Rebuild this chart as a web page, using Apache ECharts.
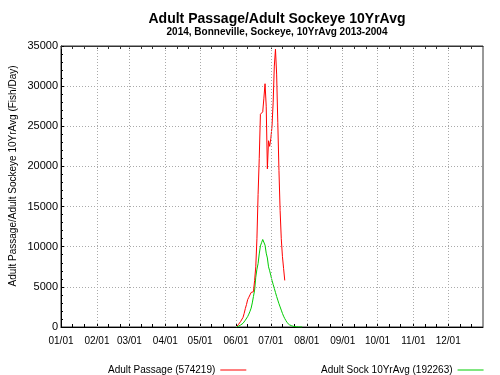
<!DOCTYPE html>
<html>
<head>
<meta charset="utf-8">
<script src="https://cdn.jsdelivr.net/npm/echarts@6/dist/echarts.min.js"></script>
<style>html,body{margin:0;padding:0;background:#fff}#c{width:500px;height:375px}</style>
</head>
<body>
<div id="c"></div>
<script>
// Month start day-of-year (Jan 1 = 0) and their labels
var monthStarts = [0, 31, 59, 90, 120, 151, 181, 212, 243, 273, 304, 334];
var monthLabels = ['01/01','02/01','03/01','04/01','05/01','06/01','07/01','08/01','09/01','10/01','11/01','12/01'];

// Adult Passage 2014 (fish/day), daily from day 151 (06/01)
var passageStart = 151;
var passageVals = [0,100,300,500,700,900,1200,1700,2300,2800,
  3400,3700,4000,4300,4100,4400,5800,7500,11000,16500,
  21000,26500,26300,26800,28500,30300,27500,19700,23200,22500,
  23500,25000,28000,32500,34600,31500,25500,19500,14500,11000,
  8800,7300,5800];

// Adult Sockeye 10-yr average (fish/day), daily from day 151
var avgStart = 151;
var avgVals = [0,50,100,150,250,350,460,650,850,1050,
  1300,1600,1950,2350,3000,3800,4600,6200,7200,7900,
  9100,10100,10500,10900,10700,10200,9200,8600,7500,7000,
  6400,5800,5300,4800,4300,3800,3350,2900,2500,2100,
  1700,1350,1050,800,550,400,280,200,150,100,
  60,40,30,20,10,10,5,0];

var seriesNames = ['Adult Passage (574219)', 'Adult Sock 10YrAvg (192263)'];
var yTicks = [0, 5000, 10000, 15000, 20000, 25000, 30000, 35000];

function pairs(start, vals) { return vals.map(function (v, i) { return [start + i, v]; }); }
var tickDays = [];
monthStarts.forEach(function (m) { tickDays.push(m, m + 10, m + 20); });

var font = 'Liberation Sans, Arial, Helvetica, sans-serif';
var chart = echarts.init(document.getElementById('c'), null, { renderer: 'canvas' });
chart.setOption({
  animation: false,
  backgroundColor: '#fff',
  title: {
    text: 'Adult Passage/Adult Sockeye 10YrAvg',
    subtext: '2014, Bonneville, Sockeye, 10YrAvg 2013-2004',
    left: 272, textAlign: 'center', top: 7, itemGap: 1,
    textStyle: { fontFamily: font, fontSize: 14, fontWeight: 'bold', color: '#000' },
    subtextStyle: { fontFamily: font, fontSize: 10, fontWeight: 'bold', color: '#000' }
  },
  legend: [
    { data: [seriesNames[0]], left: 103, top: 360, align: 'right', icon: 'rect', itemWidth: 26, itemHeight: 1,
      textStyle: { fontFamily: font, fontSize: 10, color: '#000' } },
    { data: [seriesNames[1]], left: 316, top: 360, align: 'right', icon: 'rect', itemWidth: 26, itemHeight: 1,
      textStyle: { fontFamily: font, fontSize: 10, color: '#000' } }
  ],
  grid: { left: 61, right: 17, top: 46, bottom: 48, show: true, borderColor: '#333', borderWidth: 1, containLabel: false },
  xAxis: [{
    type: 'value', min: 0, max: 364, position: 'bottom',
    axisLine: { show: true, lineStyle: { color: '#000', width: 1 } },
    axisTick: { show: true, inside: true, length: 3, customValues: tickDays, lineStyle: { color: '#000' } },
    axisLabel: { customValues: monthStarts, margin: 9, fontFamily: font, fontSize: 10, color: '#000',
      formatter: function (v) { var i = monthStarts.indexOf(v); return i >= 0 ? monthLabels[i] : ''; } },
    splitLine: { show: false }
  }, {
    type: 'value', min: 0, max: 364, position: 'top',
    axisLine: { show: true, lineStyle: { color: '#333' } },
    axisTick: { show: true, inside: true, length: 3, customValues: tickDays, lineStyle: { color: '#333' } },
    axisLabel: { show: false },
    splitLine: { show: false }
  }],
  yAxis: {
    type: 'value', min: 0, max: 35000, interval: 5000,
    axisLine: { show: true, lineStyle: { color: '#000' } },
    axisTick: { show: true, inside: true, length: 3, lineStyle: { color: '#000' } },
    minorTick: { show: true, splitNumber: 5, length: 2, lineStyle: { color: '#000' } },
    axisLabel: { margin: 3, fontFamily: font, fontSize: 11, color: '#000',
      formatter: function (v) { return yTicks.indexOf(v) >= 0 ? String(v) : ''; } },
    splitLine: { show: true, lineStyle: { color: '#aaa', type: [1, 2], width: 1 } }
  },
  graphic: [{
    type: 'text', x: 13, y: 176, rotation: Math.PI / 2,
    style: { text: 'Adult Passage/Adult Sockeye 10YrAvg (Fish/Day)', fontFamily: font, fontSize: 10, fill: '#000',
      align: 'center', verticalAlign: 'middle' }
  }],
  series: [{
    name: seriesNames[0], type: 'line', xAxisIndex: 0, data: pairs(passageStart, passageVals),
    symbol: 'none', lineStyle: { color: '#ff0000', width: 1 }, itemStyle: { color: '#ff0000' }, z: 3,
    markLine: {
      silent: true, symbol: 'none', label: { show: false },
      lineStyle: { color: '#aaa', type: [1, 2], width: 1 },
      data: monthStarts.slice(1).map(function (m) { return { xAxis: m }; })
    }
  }, {
    name: seriesNames[1], type: 'line', xAxisIndex: 0, data: pairs(avgStart, avgVals),
    symbol: 'none', lineStyle: { color: '#00cc00', width: 1 }, itemStyle: { color: '#00cc00' }, z: 2
  }]
});
</script>
</body>
</html>
